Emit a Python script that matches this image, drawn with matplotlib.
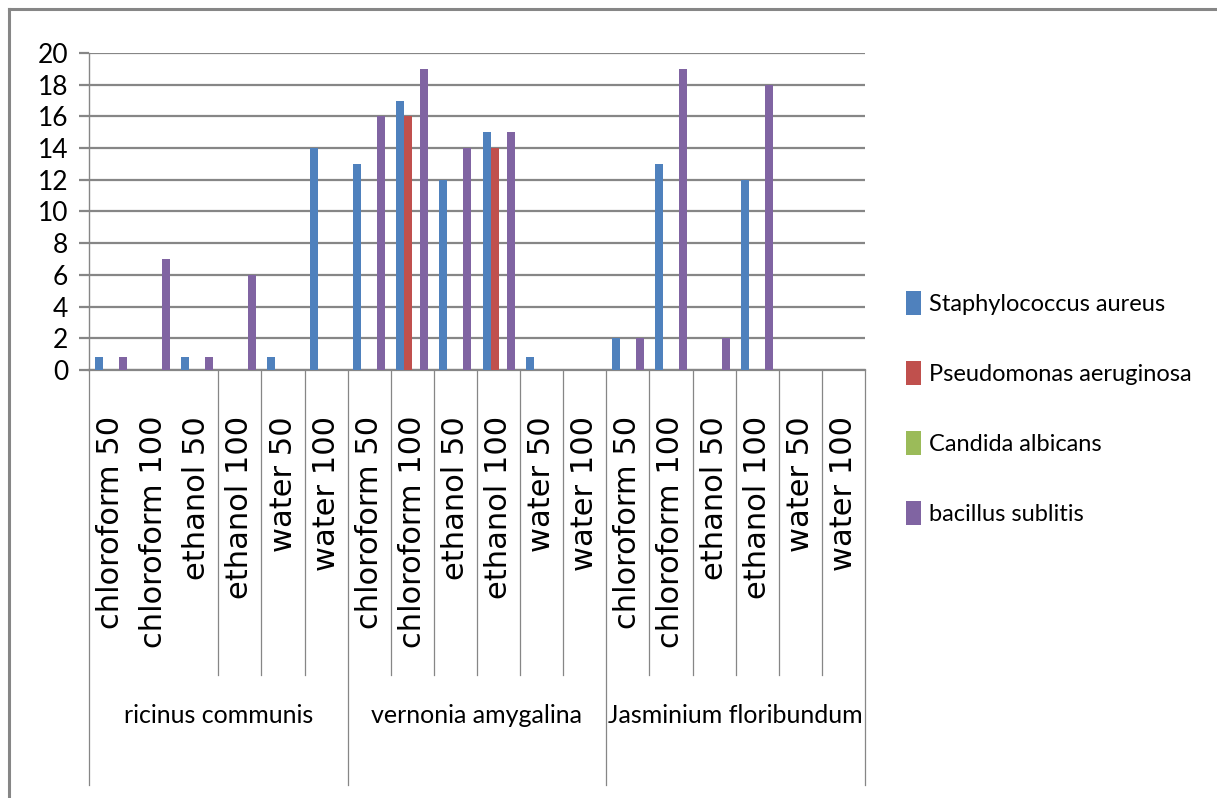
import numpy as np
import matplotlib.pyplot as plt
from matplotlib.patches import Patch
from matplotlib.lines import Line2D

# data
groups = ["ricinus communis", "vernonia amygalina", "Jasminium floribundum"]
extracts = ["chloroform 50", "chloroform 100", "ethanol 50",
            "ethanol 100", "water 50", "water 100"]
series = ["Staphylococcus aureus", "Pseudomonas aeruginosa",
          "Candida albicans", "bacillus sublitis"]

staph = [0.8, 0, 0.8, 0, 0.8, 14,
         13, 17, 12, 15, 0.8, 0,
         2, 13, 0, 12, 0, 0]
pseudo = [0, 0, 0, 0, 0, 0,
          0, 16, 0, 14, 0, 0,
          0, 0, 0, 0, 0, 0]
candida = [0, 0, 0, 0, 0, 0,
           0, 0, 0, 0, 0, 0,
           0, 0, 0, 0, 0, 0]
bacillus = [0.8, 7, 0.8, 6, 0, 0,
            16, 19, 14, 15, 0, 0,
            2, 19, 2, 18, 0, 0]

colors = ["#4F81BD", "#C0504D", "#9BBB59", "#8064A2"]
grey = "#868686"
narrow = ["Lato", "DejaVu Sans"]

values = [staph, pseudo, candida, bacillus]
labels = extracts * len(groups)
n = len(labels)
x = np.arange(n)
w = 1 / 5.375

fig = plt.figure(figsize=(12.17, 7.98), dpi=100)
ax = fig.add_axes([89 / 1217, 1 - 370 / 798, 776 / 1217, 317 / 798])

for i, vals in enumerate(values):
    ax.bar(x + (i - 1.5) * w, vals, width=w, color=colors[i], zorder=3)

ax.set_xlim(-0.5, n - 0.5)
ax.set_ylim(0, 20)
ax.set_yticks(range(0, 21, 2))
ax.set_yticklabels([str(v) for v in range(0, 21, 2)], family=narrow, fontsize=19)
ax.yaxis.grid(True, color=grey, linewidth=1.6, zorder=0)
ax.tick_params(axis="y", length=7, width=1.6, color=grey, pad=8)
ax.set_xticks([])
for s in ["top", "right"]:
    ax.spines[s].set_visible(False)
ax.spines["left"].set_color(grey)
ax.spines["left"].set_linewidth(1.0)
ax.spines["bottom"].set_color(grey)
ax.spines["bottom"].set_linewidth(1.6)

# category labels
for xi, lab in zip(x, labels):
    ax.text(xi, -0.145, lab, rotation=90, ha="center", va="top",
            fontsize=22, family="DejaVu Sans", transform=ax.get_xaxis_transform())

# group labels
for g, name in enumerate(groups):
    ax.text(g * 6 + 2.5, -1.09, name, ha="center", va="center", fontsize=18,
            family=narrow, transform=ax.get_xaxis_transform())

# separators below the axis
trans = ax.get_xaxis_transform()
for k in range(0, n + 1):
    if k in (1, 2):
        continue
    bottom = -1.309 if k % 6 == 0 else -0.962
    ax.plot([k - 0.5, k - 0.5], [0, bottom], color=grey, linewidth=0.9,
            transform=trans, clip_on=False)

# legend
handles = [Patch(facecolor=c, edgecolor="none") for c in colors]
fig.legend(handles, series, loc="center left",
           bbox_to_anchor=(897 / 1217, 1 - 408 / 798),
           frameon=False, prop={"family": narrow, "size": 17},
           handlelength=0.6, handleheight=1.2, handletextpad=0.35,
           labelspacing=1.95, borderaxespad=0)

# outer border
fig.add_artist(Line2D([9 / 1217, 9 / 1217], [0, 1 - 9 / 798], color=grey,
                      linewidth=2.2, transform=fig.transFigure))
fig.add_artist(Line2D([9 / 1217, 1], [1 - 9 / 798, 1 - 9 / 798], color=grey,
                      linewidth=2.2, transform=fig.transFigure))

fig.savefig("out.png", dpi=100)
